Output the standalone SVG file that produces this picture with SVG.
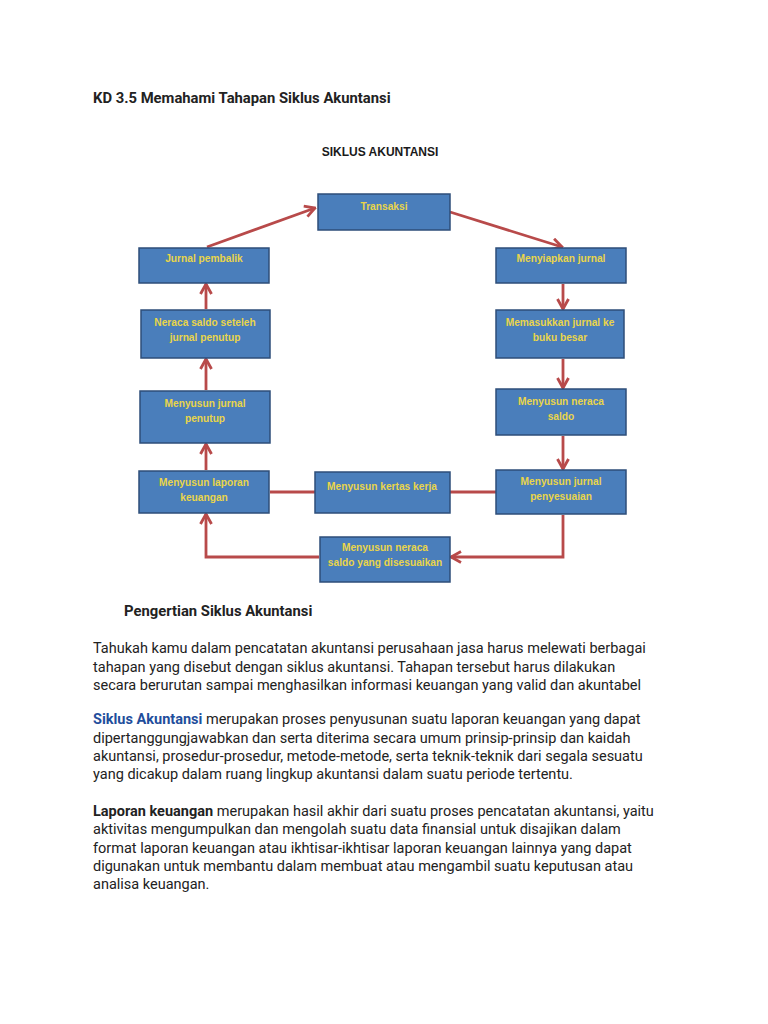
<svg xmlns="http://www.w3.org/2000/svg" width="768" height="1024" viewBox="0 0 768 1024">
<style>
.bg{fill:#ffffff}
.box{fill:#4A7EBB;stroke:#2E4E79;stroke-width:1.5}
.bt{font-family:"Liberation Sans",Arial,sans-serif;font-weight:bold;font-size:10.2px;fill:#E9D54A;text-anchor:middle}
.con{fill:none;stroke:#B84A4A;stroke-width:2.8;stroke-linejoin:miter}
.h1{font-family:Roboto,"Liberation Sans",sans-serif;font-weight:bold;font-size:14.8px;fill:#222}
.t{font-family:Roboto,"Liberation Sans",sans-serif;font-size:14.5px;fill:#222}
.b{font-weight:bold}
.lnk{font-weight:bold;fill:#1F4E9C}
.title{font-family:"Liberation Sans",Arial,sans-serif;font-weight:bold;font-size:12px;fill:#1a1a1a;text-anchor:middle}
</style>
<defs>
<marker id="ah" viewBox="0 0 14 14" refX="12.5" refY="7" markerWidth="14" markerHeight="14" orient="auto" markerUnits="userSpaceOnUse">
<path d="M2.5,1.5 L12.5,7 L2.5,12.5" fill="none" stroke="#B84A4A" stroke-width="2.8"/>
</marker>
</defs>
<rect class="bg" x="0" y="0" width="768" height="1024"/>
<text class="h1" x="93" y="103">KD 3.5 Memahami Tahapan Siklus Akuntansi</text>
<text class="title" x="380" y="156">SIKLUS AKUNTANSI</text>

<g id="connectors">
<path class="con" d="M207,247 L315,208" marker-end="url(#ah)"/>
<path class="con" d="M450,212 L562,247" marker-end="url(#ah)"/>
<path class="con" d="M563,284 L563,309" marker-end="url(#ah)"/>
<path class="con" d="M563,359 L563,388" marker-end="url(#ah)"/>
<path class="con" d="M563,436 L563,469" marker-end="url(#ah)"/>
<path class="con" d="M563,515 L563,557 L451,557" marker-end="url(#ah)"/>
<path class="con" d="M319,557 L206,557 L206,514" marker-end="url(#ah)"/>
<path class="con" d="M206,470 L206,444" marker-end="url(#ah)"/>
<path class="con" d="M206,390 L206,359" marker-end="url(#ah)"/>
<path class="con" d="M206,309 L206,284" marker-end="url(#ah)"/>
<path class="con" d="M270,492 L315,492"/>
<path class="con" d="M450,492 L496,492"/>
</g>

<g id="n-transaksi"><rect class="box" x="318" y="194" width="132" height="36"/><text class="bt" x="384" y="210">Transaksi</text></g>
<g id="n-jurnal-pembalik"><rect class="box" x="139" y="248" width="130" height="35"/><text class="bt" x="204" y="262">Jurnal pembalik</text></g>
<g id="n-menyiapkan-jurnal"><rect class="box" x="496" y="248" width="130" height="35"/><text class="bt" x="561" y="262">Menyiapkan jurnal</text></g>
<g id="n-neraca-seteleh"><rect class="box" x="141" y="310" width="129" height="48"/><text class="bt" x="205" y="326">Neraca saldo seteleh</text><text class="bt" x="205" y="341">jurnal penutup</text></g>
<g id="n-memasukkan"><rect class="box" x="496" y="310" width="128" height="48"/><text class="bt" x="560" y="326">Memasukkan jurnal ke</text><text class="bt" x="560" y="341">buku besar</text></g>
<g id="n-jurnal-penutup"><rect class="box" x="140" y="391" width="130" height="52"/><text class="bt" x="205" y="407">Menyusun jurnal</text><text class="bt" x="205" y="422">penutup</text></g>
<g id="n-neraca-saldo"><rect class="box" x="496" y="389" width="130" height="46"/><text class="bt" x="561" y="405">Menyusun neraca</text><text class="bt" x="561" y="420">saldo</text></g>
<g id="n-laporan"><rect class="box" x="139" y="471" width="130" height="42"/><text class="bt" x="204" y="486">Menyusun laporan</text><text class="bt" x="204" y="501">keuangan</text></g>
<g id="n-kertas-kerja"><rect class="box" x="315" y="472" width="135" height="41"/><text class="bt" x="382" y="490">Menyusun kertas kerja</text></g>
<g id="n-penyesuaian"><rect class="box" x="496" y="470" width="130" height="44"/><text class="bt" x="561" y="485">Menyusun jurnal</text><text class="bt" x="561" y="500">penyesuaian</text></g>
<g id="n-disesuaikan"><rect class="box" x="320" y="537" width="130" height="45"/><text class="bt" x="385" y="551">Menyusun neraca</text><text class="bt" x="385" y="566">saldo yang disesuaikan</text></g>

<text class="h1" x="124" y="616">Pengertian Siklus Akuntansi</text>
<text class="t" x="93" y="653">Tahukah kamu dalam pencatatan akuntansi perusahaan jasa harus melewati berbagai</text>
<text class="t" x="93" y="672">tahapan yang disebut dengan siklus akuntansi. Tahapan tersebut harus dilakukan</text>
<text class="t" x="93" y="690">secara berurutan sampai menghasilkan informasi keuangan yang valid dan akuntabel</text>

<text class="t" x="93" y="724"><tspan class="lnk">Siklus Akuntansi</tspan> merupakan proses penyusunan suatu laporan keuangan yang dapat</text>
<text class="t" x="93" y="743">dipertanggungjawabkan dan serta diterima secara umum prinsip-prinsip dan kaidah</text>
<text class="t" x="93" y="761">akuntansi, prosedur-prosedur, metode-metode, serta teknik-teknik dari segala sesuatu</text>
<text class="t" x="93" y="779">yang dicakup dalam ruang lingkup akuntansi dalam suatu periode tertentu.</text>

<text class="t" x="93" y="816"><tspan class="b">Laporan keuangan</tspan> merupakan hasil akhir dari suatu proses pencatatan akuntansi, yaitu</text>
<text class="t" x="93" y="834">aktivitas mengumpulkan dan mengolah suatu data finansial untuk disajikan dalam</text>
<text class="t" x="93" y="853">format laporan keuangan atau ikhtisar-ikhtisar laporan keuangan lainnya yang dapat</text>
<text class="t" x="93" y="871">digunakan untuk membantu dalam membuat atau mengambil suatu keputusan atau</text>
<text class="t" x="93" y="889">analisa keuangan.</text>
</svg>
